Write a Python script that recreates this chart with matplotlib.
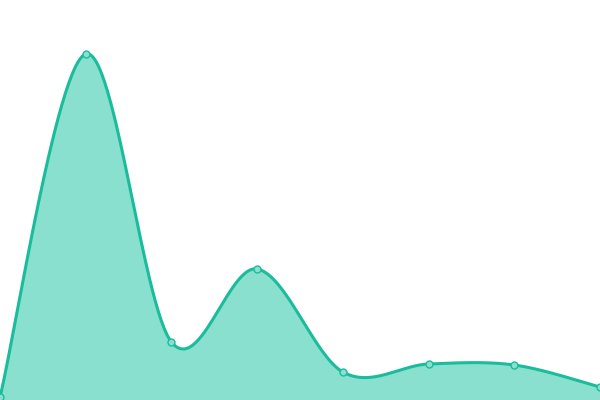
import numpy as np
import matplotlib
matplotlib.use("Agg")
import matplotlib.pyplot as plt

# values (axis runs 0..400)
categories = list(range(8))
values = [3, 346, 58, 131, 28, 36, 35, 13]

line_color = "#1abc9c"
fill_color = "#8ae0cf"


def catmull_rom(xs, ys, n=60):
    # uniform catmull-rom through the points, ends repeated
    px = np.concatenate([[xs[0]], xs, [xs[-1]]]).astype(float)
    py = np.concatenate([[ys[0]], ys, [ys[-1]]]).astype(float)
    out_x, out_y = [], []
    t = np.linspace(0, 1, n)
    for i in range(1, len(px) - 2):
        p0x, p1x, p2x, p3x = px[i - 1:i + 3]
        p0y, p1y, p2y, p3y = py[i - 1:i + 3]
        c1x, c1y = p1x + (p2x - p0x) / 6, p1y + (p2y - p0y) / 6
        c2x, c2y = p2x - (p3x - p1x) / 6, p2y - (p3y - p1y) / 6
        bx = (1 - t) ** 3 * p1x + 3 * (1 - t) ** 2 * t * c1x + 3 * (1 - t) * t ** 2 * c2x + t ** 3 * p2x
        by = (1 - t) ** 3 * p1y + 3 * (1 - t) ** 2 * t * c1y + 3 * (1 - t) * t ** 2 * c2y + t ** 3 * p2y
        out_x.append(bx)
        out_y.append(by)
    return np.concatenate(out_x), np.concatenate(out_y)


sx, sy = catmull_rom(categories, values)

fig = plt.figure(figsize=(6, 4), dpi=100)
ax = fig.add_axes([0, 0, 1, 1])
ax.fill_between(sx, sy, 0, color=fill_color, lw=0)
ax.plot(sx, sy, color=line_color, lw=2.2, solid_capstyle="round")
ax.plot(categories, values, "o", ms=5, mfc=fill_color, mec=line_color, mew=1.0)
ax.set_xlim(0, 7)
ax.set_ylim(0, 400)
ax.axis("off")
fig.savefig("out.png", dpi=100)
